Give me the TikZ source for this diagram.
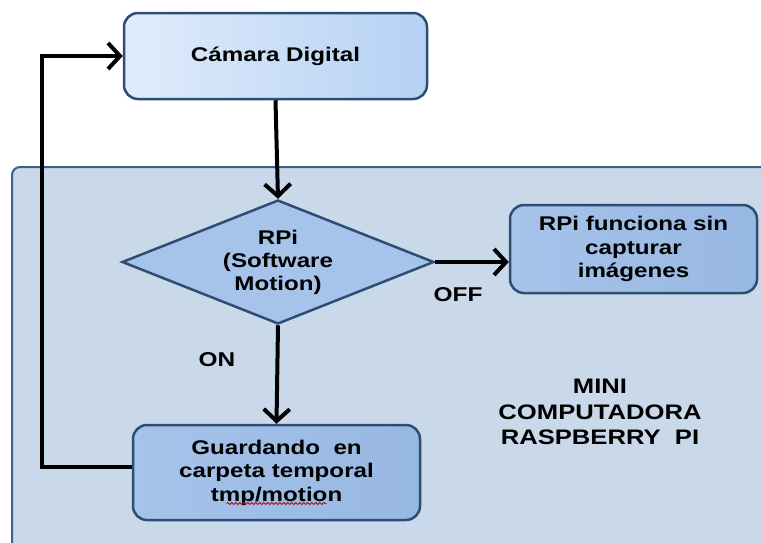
\documentclass[tikz,border=0pt]{standalone}
\usepackage{fontspec}
\setmainfont{Liberation Sans}[FakeStretch=1.22]
\usepackage{tikz}
\usetikzlibrary{arrows.meta}
\usetikzlibrary{shapes.geometric}
\usetikzlibrary{decorations.pathmorphing}
\usetikzlibrary{calc}
\tikzset{>={Straight Barb[length=12pt,width=26pt]}}
\definecolor{borde}{HTML}{2F4D73}
\definecolor{fondo}{HTML}{C9D9EA}
\definecolor{fondoborde}{HTML}{3F5F86}
\definecolor{azulclaro}{HTML}{E0ECFB}
\definecolor{azulcam}{HTML}{B6D1F5}
\definecolor{azulmedio}{HTML}{A6C3EA}
\definecolor{azulosc}{HTML}{97B8E3}

\begin{document}
\begin{tikzpicture}[x=1pt, y=-1pt,
    caja/.style={draw=borde, line width=2.5pt, rounded corners=14pt, align=center,
      inner sep=0pt, font=\bfseries\fontsize{19.8}{23.5}\selectfont},
    rombo/.style={diamond, aspect=2.5, draw=borde, line width=2.5pt, fill=azulmedio,
      inner sep=0pt, align=center, font=\bfseries\fontsize{19.8}{23}\selectfont},
    flecha/.style={->, line width=4pt, black},
    etiqueta/.style={font=\bfseries\fontsize{21}{25.5}\selectfont, align=center}]
    \useasboundingbox (0,0) rectangle (761,542);

    % raspberry pi
    \draw[draw=fondoborde, fill=fondo, line width=2pt, rounded corners=8pt] (12,167) rectangle (800,580);
    \node[etiqueta] (mini) at (600,412) {MINI\\COMPUTADORA\\RASPBERRY\ \ PI};

    \node[caja, left color=azulclaro, right color=azulcam, minimum width=303, minimum height=86] (cam) at (275.5,56) {C\'amara Digital};
    \node[rombo, minimum width=312, minimum height=124] (rpi) at (278,262) {RPi\\(Software\\Motion)};
    \node[caja, left color=azulmedio, right color=azulosc, minimum width=247, minimum height=88] (off) at (633.5,249) {RPi funciona sin\\capturar\\im\'agenes};
    \node[caja, left color=azulmedio, right color=azulosc, minimum width=287, minimum height=95] (gua) at (276.5,472.5) {Guardando\ \ en\\carpeta temporal\\tmp/motion};

    \draw[flecha] (cam.south) -- (rpi.north);
    \draw[flecha] (rpi.east) -- (rpi.east -| off.west);
    \draw[flecha] (rpi.south) -- (gua.north);
    \draw[flecha, line join=miter] ([yshift=6pt]gua.west) -- ++(-90,0) |- (cam.west);

    \node[etiqueta, font=\bfseries\fontsize{20}{24}\selectfont] (lboff) at (458,295) {OFF};
    \node[etiqueta, font=\bfseries\fontsize{20}{24}\selectfont] (lbon) at (217,360) {ON};

    \draw[red!80!black, line width=0.8pt, decorate, decoration={snake, amplitude=1pt, segment length=4pt}]
      ($(gua.center)+(-50,31)$) -- ($(gua.center)+(50,31)$);
\end{tikzpicture}
\end{document}
